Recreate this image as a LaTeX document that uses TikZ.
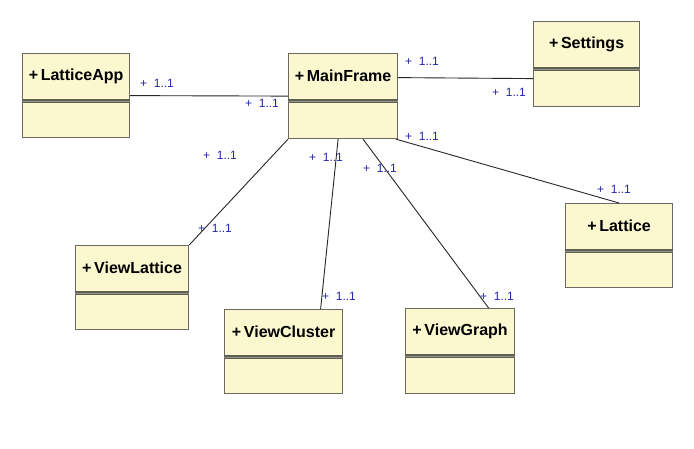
\documentclass[tikz,border=0pt]{standalone}
\usepackage{fontspec}
\setmainfont{Liberation Sans}
\usetikzlibrary{positioning,calc}
\definecolor{umlfundo}{HTML}{FBF8CF}
\definecolor{umlborda}{HTML}{6A6A60}
\definecolor{umlazul}{HTML}{2525B0}
\tikzset{
  umlclasse/.style={draw=umlborda, fill=umlfundo, line width=1.2pt, inner sep=0pt,
                  anchor=north west},
  umlnome/.style={font=\fontsize{16}{17}\selectfont\bfseries, inner sep=0pt},
  umldivisa/.style={draw=umlborda!90!black, line width=1.1pt, double=umlborda!70!umlfundo, double distance=1pt},
  umlliga/.style={draw=black!85, line width=0.9pt},
  umlmult/.style={font=\fontsize{12}{13}\selectfont, text=umlazul, anchor=west, inner sep=0pt},
}

\begin{document}
\begin{tikzpicture}[x=1pt, y=1pt]
        \useasboundingbox (0,0) rectangle (694,-448);
        % classes
        \node[umlclasse, minimum width=107, minimum height=84] (app) at (22,-53) {};
        \node[umlclasse, minimum width=109, minimum height=85] (main) at (288,-53) {};
        \node[umlclasse, minimum width=106, minimum height=85] (settings) at (533,-21) {};
        \node[umlclasse, minimum width=107, minimum height=84] (lattice) at (565,-203) {};
        \node[umlclasse, minimum width=113, minimum height=84] (vlattice) at (75,-245) {};
        \node[umlclasse, minimum width=118, minimum height=84] (vcluster) at (224,-309) {};
        \node[umlclasse, minimum width=109, minimum height=85] (vgraph) at (405,-308) {};
        % nomes e divisas
        \foreach \cl/\nome in {app/LatticeApp, main/MainFrame, settings/Settings, lattice/Lattice,
                               vlattice/ViewLattice, vcluster/ViewCluster, vgraph/ViewGraph} {
            \node[umlnome] (\cl-nome) at ([yshift=-23pt]\cl.north) {+\,\nome};
            \draw[umldivisa] ([yshift=-48pt]\cl.north west) -- ([yshift=-48pt]\cl.north east);
        }
        % associacoes
        \draw[umlliga] (app.east) -- (main.west);
        \draw[umlliga] ([yshift=18.5pt]main.east) -- ([yshift=-14.5pt]settings.west);
        \draw[umlliga] (main.south west) -- (vlattice.north east);
        \draw[umlliga] ([xshift=-5pt]main.south) -- ([xshift=37pt]vcluster.north);
        \draw[umlliga] ([xshift=20pt]main.south) -- ([xshift=28.5pt]vgraph.north);
        \draw[umlliga] ([xshift=-2pt]main.south east) -- (lattice.north);
        % multiplicidades
        \node[umlmult] (m1) at (140,-83) {+\ \ 1..1};
        \node[umlmult] (m2) at (245,-103) {+\ \ 1..1};
        \node[umlmult] (m3) at (405,-61) {+\ \ 1..1};
        \node[umlmult] (m4) at (492,-92) {+\ \ 1..1};
        \node[umlmult] (m5) at (405,-136) {+\ \ 1..1};
        \node[umlmult] (m6) at (597,-189) {+\ \ 1..1};
        \node[umlmult] (m7) at (203,-155) {+\ \ 1..1};
        \node[umlmult] (m8) at (198,-228) {+\ \ 1..1};
        \node[umlmult] (m9) at (309,-157) {+\ \ 1..1};
        \node[umlmult] (m10) at (322,-296) {+\ \ 1..1};
        \node[umlmult] (m11) at (363,-168) {+\ \ 1..1};
        \node[umlmult] (m12) at (480,-296) {+\ \ 1..1};
    \end{tikzpicture}
\end{document}
